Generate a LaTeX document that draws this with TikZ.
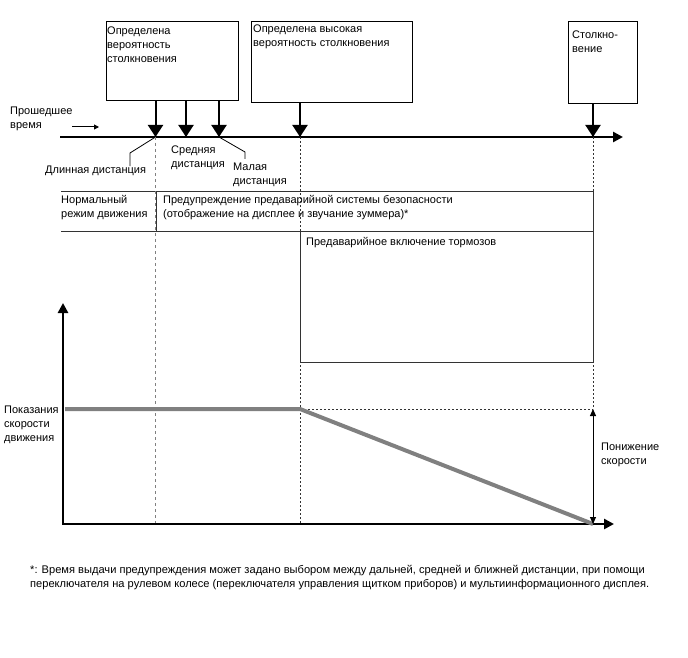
\documentclass[tikz,border=0pt]{standalone}
\usepackage{fontspec}
\setmainfont{Liberation Sans}
\usetikzlibrary{arrows.meta}

\begin{document}
\begin{tikzpicture}[x=1pt, y=-1pt,
    evbox/.style={rectangle, draw, line width=1pt, anchor=north west, inner sep=0pt},
    txt/.style={anchor=north west, inner sep=0pt, align=left, font=\fontsize{11}{13.8}\selectfont},
    hit/.style={line width=2pt, -{Triangle[width=15pt, length=12pt]}},
    axis/.style={line width=2.5pt},
    leader/.style={line width=0.8pt},
    rule/.style={line width=1pt, draw=black!80},
    guide/.style={line width=1pt, draw=black!50, dash pattern=on 3pt off 3pt},
    dotline/.style={line width=1pt, draw=black!80, dash pattern=on 2pt off 2pt},
    speed/.style={line width=4pt, draw=black!50}
]

\useasboundingbox (0,0) rectangle (688,658);

% events
\node[evbox, minimum width=132pt, minimum height=79pt] (prob) at (106,21) {};
\node[evbox, minimum width=161pt, minimum height=81pt] (high) at (251,21) {};
\node[evbox, minimum width=69pt, minimum height=82pt] (crash) at (568,21) {};

\node[txt] (probtxt) at (107,27) {Определена\\вероятность\\столкновения};
\node[txt] (hightxt) at (253,25) {Определена высокая\\вероятность столкновения};
\node[txt] (crashtxt) at (572,31) {Столкно-\\вение};

% time axis
\coordinate (t0) at (60,137);
\coordinate (tend) at (623,137);
\coordinate (tlong) at (155.5,137);
\coordinate (tmid) at (186,137);
\coordinate (tshort) at (219,137);
\coordinate (thigh) at (300,137);
\coordinate (tcrash) at (593,137);

\node[txt] (past) at (10,107) {Прошедшее\\время};
\coordinate (pastA) at (72,127);
\coordinate (pastB) at (99,127);
\draw[line width=1pt, -{Triangle[width=5pt, length=5pt]}] (pastA) -- (pastB);

\draw[axis, -{Triangle[width=10pt, length=10pt]}] (t0) -- (tend);
\draw[hit] (prob.south -| tlong) -- (tlong);
\draw[hit] (prob.south -| tmid) -- (tmid);
\draw[hit] (prob.south -| tshort) -- (tshort);
\draw[hit] (high.south -| thigh) -- (thigh);
\draw[hit] (crash.south -| tcrash) -- (tcrash);

\node[txt] (longlbl) at (45,166) {Длинная дистанция};
\node[txt] (midlbl) at (171,146) {Средняя\\дистанция};
\node[txt] (shortlbl) at (233,163) {Малая\\дистанция};
\coordinate (longknee) at (130,153);
\coordinate (shortknee) at (245,152);
\draw[leader] (tlong) -- (longknee) -- (longknee |- longlbl.north);
\draw[leader] (tshort) -- (shortknee) -- ++(0,7);

% modes
\draw[rule] (61,191) -- (593,191) -- (593,362) -- (300,362) -- (300,231);
\draw[rule] (61,231) -- (593,231);
\draw[rule] (156,191) -- (156,231);
\node[txt] (normal) at (61,195) {Нормальный\\режим движения};
\node[txt] (warn) at (163,195) {Предупреждение предаварийной системы безопасности\\(отображение на дисплее и звучание зуммера)*};
\node[txt] (brake) at (306,237) {Предаварийное включение тормозов};

% speed
\coordinate (origin) at (63,524);
\coordinate (ytop) at (63,303);
\coordinate (xend) at (614,524);
\coordinate (vstart) at (65,409);
\coordinate (brk) at (300,409);
\coordinate (vref) at (593,409);
\coordinate (stop) at (593,524);

\draw[guide] (tlong) -- (tlong |- origin);
\draw[dotline] (thigh) -- (thigh |- origin);
\draw[dotline] (tcrash) -- (vref);
\draw[dotline] (brk) -- (vref);

\draw[axis, {Triangle[width=10pt, length=10pt]}-{Triangle[width=10pt, length=10pt]}] (ytop) -- (origin) -- (xend);
\draw[speed] (vstart) -- (brk) -- (stop);
\draw[line width=1pt, {Triangle[width=6pt, length=7pt]}-{Triangle[width=6pt, length=7pt]}] (vref) -- (stop);

\node[txt] (speedlbl) at (4,406) {Показания\\скорости\\движения};
\node[txt] (droplbl) at (601,443) {Понижение\\скорости};

\node[txt, font=\fontsize{11.1}{14}\selectfont] (note) at (30,565) {*: Время выдачи предупреждения может задано выбором между дальней, средней и ближней дистанции, при помощи\\переключателя на рулевом колесе (переключателя управления щитком приборов) и мультиинформационного дисплея.};

\end{tikzpicture}
\end{document}
